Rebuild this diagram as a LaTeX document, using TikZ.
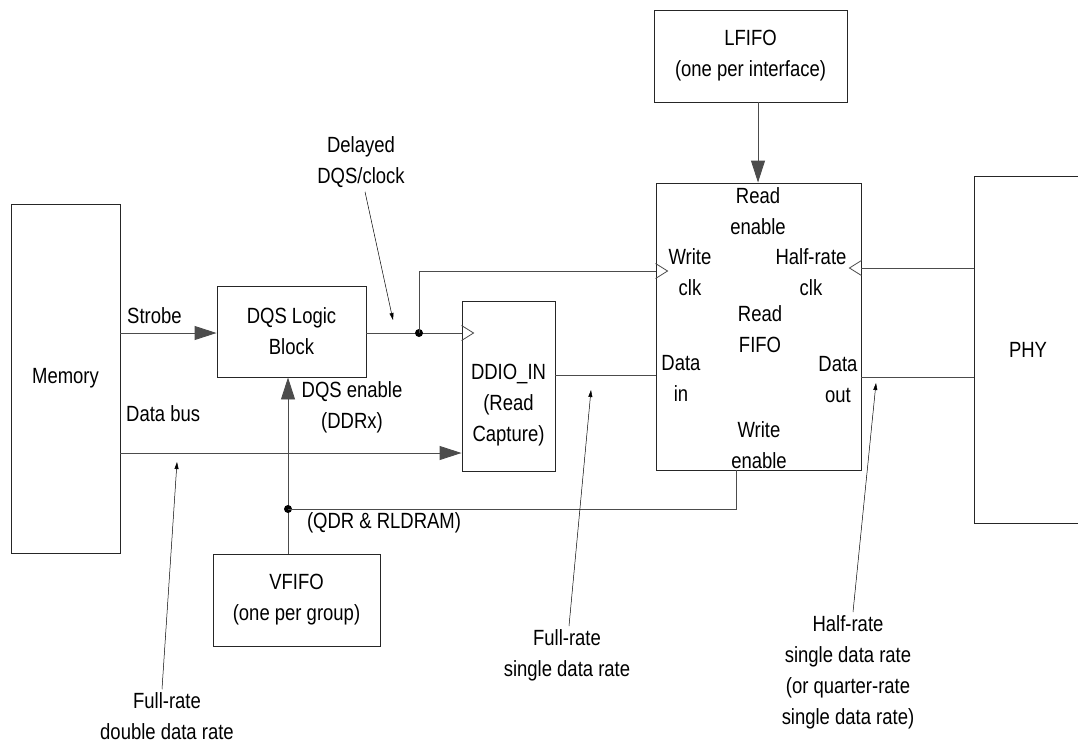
\documentclass[tikz,border=0pt]{standalone}
\usepackage{fontspec}
\setmainfont{Liberation Sans}[FakeStretch=0.84]
\usetikzlibrary{arrows.meta,calc}

\tikzset{
  box/.style={draw=black!85, line width=0.9pt, rectangle, inner sep=0pt, align=center},
  wire/.style={draw=black!70, line width=0.9pt},
  bigarrow/.style={wire, -{Triangle[length=22pt,width=14pt]}},
  pointer/.style={draw=black, line width=0.5pt, -{Triangle[length=7pt,width=4pt]}},
  lbl/.style={align=center, inner sep=0pt},
  clk/.style={draw=black!70, line width=0.8pt},
  junction/.style={circle, fill=black, inner sep=0pt, minimum size=8pt},
}

\begin{document}
\begin{tikzpicture}[x=1pt, y=-1pt, font=\fontsize{22}{31}\selectfont]
\useasboundingbox (0,0) rectangle (1078,742);
\clip (0,0) rectangle (1078,742);

% blocks
\node[box, minimum width=109pt, minimum height=349pt] (mem) at (65.5,378.5) {Memory};
\node[box, minimum width=149pt, minimum height=91pt] (dqs) at (291.5,331.5) {DQS Logic\\Block};
\node[box, minimum width=93pt, minimum height=170pt] (ddio) at (508.5,386) {};
\node[lbl] (ddiotext) at (508.5,405) {DDIO\_IN\\(Read\\Capture)};
\node[box, minimum width=205pt, minimum height=287pt] (fifo) at (758.5,326.5) {};
\node[box, minimum width=108pt, minimum height=347pt] (phy) at (1028,349.5) {PHY};
\node[box, minimum width=193pt, minimum height=92pt] (lfifo) at (750.5,56) {LFIFO\\(one per interface)};
\node[box, minimum width=167pt, minimum height=92pt] (vfifo) at (296.5,600) {VFIFO\\(one per group)};

% port names inside the read FIFO
\node[lbl] (rden) at (758,211) {Read\\enable};
\node[lbl] (wclk) at (690,272) {Write\\clk};
\node[lbl] (hclk) at (811,272) {Half-rate\\clk};
\node[lbl] (rfifo) at (760,329) {Read\\FIFO};
\node[lbl] (din) at (681,378) {Data\\in};
\node[lbl] (dout) at (838,380) {Data\\out};
\node[lbl] (wren) at (759,445) {Write\\enable};

% signal levels
\coordinate (yStrobe) at (0,333);
\coordinate (yData) at (0,453);
\coordinate (yWclk) at (0,271);
\coordinate (yHclk) at (0,268);
\coordinate (yDin) at (0,375);
\coordinate (yDout) at (0,377);
\coordinate (xL) at (758,0);
\coordinate (xV) at (288,0);
\coordinate (xWen) at (736,0);

% connections
\draw[bigarrow] (mem.east |- yStrobe) -- (dqs.west |- yStrobe);
\draw[bigarrow] (mem.east |- yData) -- (ddio.west |- yData);
\draw[wire] (dqs.east |- yStrobe) -- (ddio.west |- yStrobe);
\node[junction] (jclk) at (419,333) {};
\draw[wire] (jclk.center) |- (fifo.west |- yWclk);
\draw[wire] (ddio.east |- yDin) -- (fifo.west |- yDin);
\draw[wire] (fifo.east |- yDout) -- (phy.west |- yDout);
\draw[wire] (phy.west |- yHclk) -- (fifo.east |- yHclk);
\draw[bigarrow] (lfifo.south -| xL) -- (fifo.north -| xL);
\draw[bigarrow] (vfifo.north -| xV) -- (dqs.south -| xV);
\node[junction] (jen) at (288,509) {};
\draw[wire] (jen.center) -| (fifo.south -| xWen);

% clock inputs
\draw[clk] ($(ddio.west |- yStrobe)+(0,-7.5)$) -- ++(12,7.5) -- ++(-12,7.5);
\draw[clk] ($(fifo.west |- yWclk)+(0,-7.5)$) -- ++(12,7.5) -- ++(-12,7.5);
\draw[clk] ($(fifo.east |- yHclk)+(0,-7.5)$) -- ++(-12,7.5) -- ++(12,7.5);

% signal names
\node[lbl, anchor=west] (strobe) at (127,316) {Strobe};
\node[lbl, anchor=west] (databus) at (126,414) {Data bus};
\node[lbl] (dqsen) at (352,407) {DQS enable\\(DDRx)};
\node[lbl] (qdr) at (384,523) {(QDR \& RLDRAM)};

% rate annotations
\node[lbl] (delayed) at (361,162) {Delayed\\DQS/clock};
\coordinate (pDel) at (393,320);
\draw[pointer] ($(delayed.south)+(4,4)$) -- (pDel);

\node[lbl] (frddr) at (167,716) {Full-rate\\double data rate};
\coordinate (pFrddr) at (177,462);
\draw[pointer] ($(frddr.north)+(-5,-3)$) -- (pFrddr);

\node[lbl] (frsdr) at (567,655) {Full-rate\\single data rate};
\coordinate (pFrsdr) at (591,390);
\draw[pointer] ($(frsdr.north)+(2,-3)$) -- (pFrsdr);

\node[lbl] (hrsdr) at (848,672) {Half-rate\\single data rate\\(or quarter-rate\\single data rate)};
\coordinate (pHrsdr) at (876,383);
\draw[pointer] ($(hrsdr.north)+(5,-3)$) -- (pHrsdr);
\end{tikzpicture}
\end{document}
